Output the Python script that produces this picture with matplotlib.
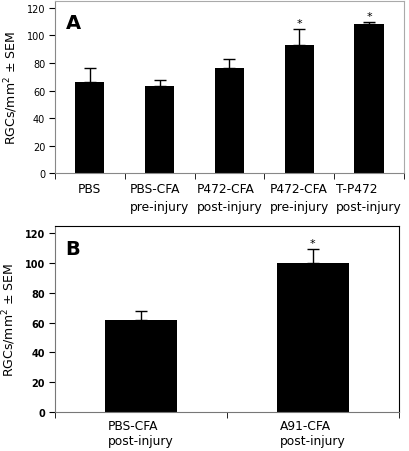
import numpy as np
import matplotlib
matplotlib.use("Agg")
import matplotlib.pyplot as plt

plt.rcParams['font.family'] = ['DejaVu Sans']

# Panel A data
labels_a = ["PBS", "PBS-CFA\npre-injury", "P472-CFA\npost-injury",
            "P472-CFA\npre-injury", "T-P472\npost-injury"]
means_a = [66, 63, 76, 93, 108]
sem_a = [10, 5, 7, 11.5, 2]
star_a = [False, False, False, True, True]

# Panel B data
labels_b = ["PBS-CFA\npost-injury", "A91-CFA\npost-injury"]
means_b = [62, 100]
sem_b = [6, 9.5]
star_b = [False, True]

yticks = [0, 20, 40, 60, 80, 100, 120]

fig = plt.figure(figsize=(4.10, 4.52), dpi=100)


def draw_panel(ax, labels, means, sem, stars, letter, bold, pad, spacing):
    x = np.arange(len(labels))
    ax.bar(x, means, width=0.42, color="black", zorder=2)
    ax.errorbar(x, means, yerr=[np.zeros(len(sem)), sem], fmt="none",
                ecolor="black", elinewidth=1, capsize=4, capthick=1, zorder=3)
    for xi, m, s, st in zip(x, means, sem, stars):
        if st:
            ax.text(xi, m + s + 0.5, "*", ha="center", va="bottom", fontsize=8)
    ax.set_xlim(-0.5, len(labels) - 0.5)
    ax.set_ylim(0, 125)
    ax.set_yticks(yticks)
    ax.set_xticks(x)
    weight = "bold" if bold else "normal"
    ax.set_xticklabels(labels, fontsize=8.8)
    for t in ax.get_xticklabels():
        t.set_multialignment("left")
        t.set_linespacing(spacing)
    ax.set_yticklabels([str(v) for v in yticks], fontsize=7, fontweight=weight)
    ax.set_xticks(np.arange(len(labels) + 1) - 0.5, minor=True)
    ax.tick_params(axis="x", which="major", length=0, pad=pad)
    ax.tick_params(axis="x", which="minor", length=4, direction="out")
    ax.tick_params(axis="y", length=4, direction="out", pad=3)
    ax.set_ylabel("RGCs/mm$^2$ ± SEM", fontsize=9, labelpad=5)
    ax.text(0.03, 0.93, letter, transform=ax.transAxes, fontsize=14,
            fontweight="bold", ha="left", va="top")


ax_a = fig.add_axes([0.134, 0.614, 0.851, 0.382])
draw_panel(ax_a, labels_a, means_a, sem_a, star_a, "A", False, 6.5, 1.45)
for side in ["top", "right"]:
    ax_a.spines[side].set_color("#aaaaaa")
    ax_a.spines[side].set_linestyle((0, (1, 1)))
for side in ["left", "bottom"]:
    ax_a.spines[side].set_color("#888888")

ax_b = fig.add_axes([0.134, 0.087, 0.839, 0.411])
draw_panel(ax_b, labels_b, means_b, sem_b, star_b, "B", True, 5, 1.25)
for side in ["left", "bottom"]:
    ax_b.spines[side].set_color("#777777")

fig.savefig("out.png", dpi=100)
